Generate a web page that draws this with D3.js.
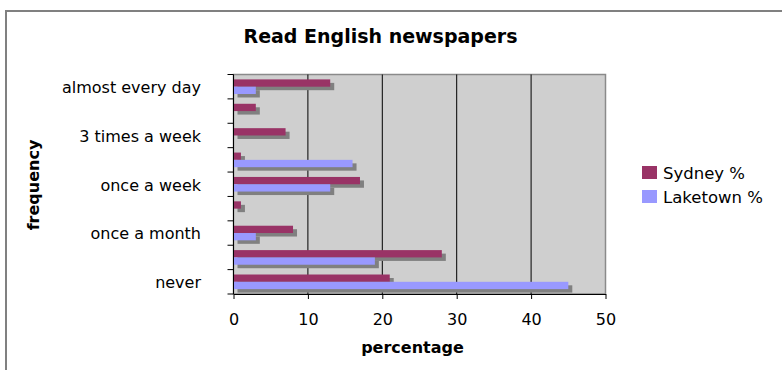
<!DOCTYPE html>
<html>
<head>
<meta charset="utf-8">
<script src="https://cdn.jsdelivr.net/npm/d3@7"></script>
<style>
  body { margin: 0; background: #fff; }
  svg { display: block; font-family: "DejaVu Sans", Verdana, sans-serif; }
</style>
</head>
<body>
<svg id="chart" width="782" height="370"></svg>
<script>
// Reading frequency categories, top to bottom
const categories = [
  "almost every day", "4-6 times a week", "3 times a week", "twice a week",
  "once a week", "once a fortnight", "once a month", "less than once a month", "never"
];
// Only every second category gets a printed label on the axis
const labelledCategories = ["almost every day", "3 times a week", "once a week", "once a month", "never"];

const seriesNames = ["Sydney %", "Laketown %"];
const sydney   = [13, 3, 7, 1, 17, 1, 8, 28, 21];
const laketown = [3, 0, 0, 16, 13, 0, 3, 19, 45];
const xTicks = [0, 10, 20, 30, 40, 50];

const seriesColors = ["#993366", "#9999ff"];
const shadowColor = "#808080";
const plotFill = "#cfcfcf";

const rows = categories.map((c, i) => ({ category: c, values: [sydney[i], laketown[i]] }));

const svg = d3.select("#chart");

// Outer chart frame (continues past the right and bottom edges)
svg.append("path")
  .attr("d", "M6,400 V11 H800")
  .attr("fill", "none")
  .attr("stroke", "#808080")
  .attr("stroke-width", 2);

const plot = { left: 233.5, right: 605.5, top: 74.5, bottom: 294 };

const x = d3.scaleLinear().domain([0, 50]).range([plot.left, plot.right]);
const y = d3.scaleBand().domain(categories).range([plot.top, plot.bottom]).padding(0);
const ySeries = d3.scaleBand().domain(seriesNames).range([0, y.bandwidth()])
  .paddingInner(0).paddingOuter(0.67);

// Plot area background and frame
svg.append("rect")
  .attr("x", plot.left).attr("y", plot.top)
  .attr("width", plot.right - plot.left).attr("height", plot.bottom - plot.top)
  .attr("fill", plotFill)
  .attr("stroke", "#8a8a8a").attr("stroke-width", 1.5);

// Vertical gridlines
svg.append("g")
  .selectAll("line")
  .data(xTicks.filter(t => t > 0 && t < 50))
  .join("line")
  .attr("x1", d => x(d)).attr("x2", d => x(d))
  .attr("y1", plot.top).attr("y2", plot.bottom)
  .attr("stroke", "#000").attr("stroke-width", 1);

// Bars with drop shadows
const bars = rows.flatMap(r => r.values.map((v, k) => ({ category: r.category, series: seriesNames[k], value: v, color: seriesColors[k] })));
const shadowDx = 4, shadowDy = 3.5;

svg.append("g").attr("class", "shadows")
  .selectAll("rect")
  .data(bars.filter(b => b.value > 0))
  .join("rect")
  .attr("x", x(0) + shadowDx)
  .attr("y", d => y(d.category) + ySeries(d.series) + shadowDy)
  .attr("width", d => x(d.value) - x(0))
  .attr("height", ySeries.bandwidth())
  .attr("fill", shadowColor);

svg.append("g").attr("class", "bars")
  .selectAll("rect")
  .data(bars.filter(b => b.value > 0))
  .join("rect")
  .attr("x", x(0))
  .attr("y", d => y(d.category) + ySeries(d.series))
  .attr("width", d => x(d.value) - x(0))
  .attr("height", ySeries.bandwidth())
  .attr("fill", d => d.color);

// X axis
const xAxis = d3.axisBottom(x).tickValues(xTicks).tickSize(5).tickPadding(15).tickSizeOuter(0);
const gx = svg.append("g").attr("transform", `translate(0,${plot.bottom})`).call(xAxis);
gx.select(".domain").attr("stroke", "#000");
gx.selectAll(".tick line").attr("stroke", "#000");
gx.selectAll(".tick text").attr("font-size", 16).attr("fill", "#000")
  .attr("font-family", "DejaVu Sans, Verdana, sans-serif");

// Y axis: ticks on category boundaries, labels on every second category
const gy = svg.append("g");
gy.append("line")
  .attr("x1", plot.left).attr("x2", plot.left)
  .attr("y1", plot.top).attr("y2", plot.bottom)
  .attr("stroke", "#000");
const boundaries = categories.map(c => y(c)).concat([y(categories[categories.length - 1]) + y.bandwidth()]);
gy.selectAll("line.tick")
  .data(boundaries)
  .join("line")
  .attr("class", "tick")
  .attr("x1", plot.left - 6).attr("x2", plot.left)
  .attr("y1", d => d).attr("y2", d => d)
  .attr("stroke", "#000");
gy.selectAll("text")
  .data(labelledCategories)
  .join("text")
  .attr("x", 201)
  .attr("y", d => y(d) + y.bandwidth() / 2)
  .attr("dy", "0.4em")
  .attr("text-anchor", "end")
  .attr("font-size", 16)
  .attr("fill", "#000")
  .text(d => d);

// Titles
svg.append("text")
  .attr("x", 380.5).attr("y", 43)
  .attr("text-anchor", "middle")
  .attr("font-size", 19).attr("font-weight", "bold")
  .text("Read English newspapers");

svg.append("text")
  .attr("x", 412.5).attr("y", 353)
  .attr("text-anchor", "middle")
  .attr("font-size", 16).attr("font-weight", "bold")
  .text("percentage");

svg.append("text")
  .attr("transform", "translate(39,185) rotate(-90)")
  .attr("text-anchor", "middle")
  .attr("font-size", 16).attr("font-weight", "bold")
  .text("frequency");

// Legend
const legend = svg.append("g").attr("transform", "translate(642,166)");
const items = legend.selectAll("g")
  .data(seriesNames)
  .join("g")
  .attr("transform", (d, i) => `translate(0,${i * 24})`);
items.append("rect")
  .attr("width", 15).attr("height", 13)
  .attr("fill", (d, i) => seriesColors[i]);
items.append("text")
  .attr("x", 21).attr("y", 13)
  .attr("font-size", 16.5)
  .attr("fill", "#000")
  .text(d => d);
</script>
</body>
</html>
